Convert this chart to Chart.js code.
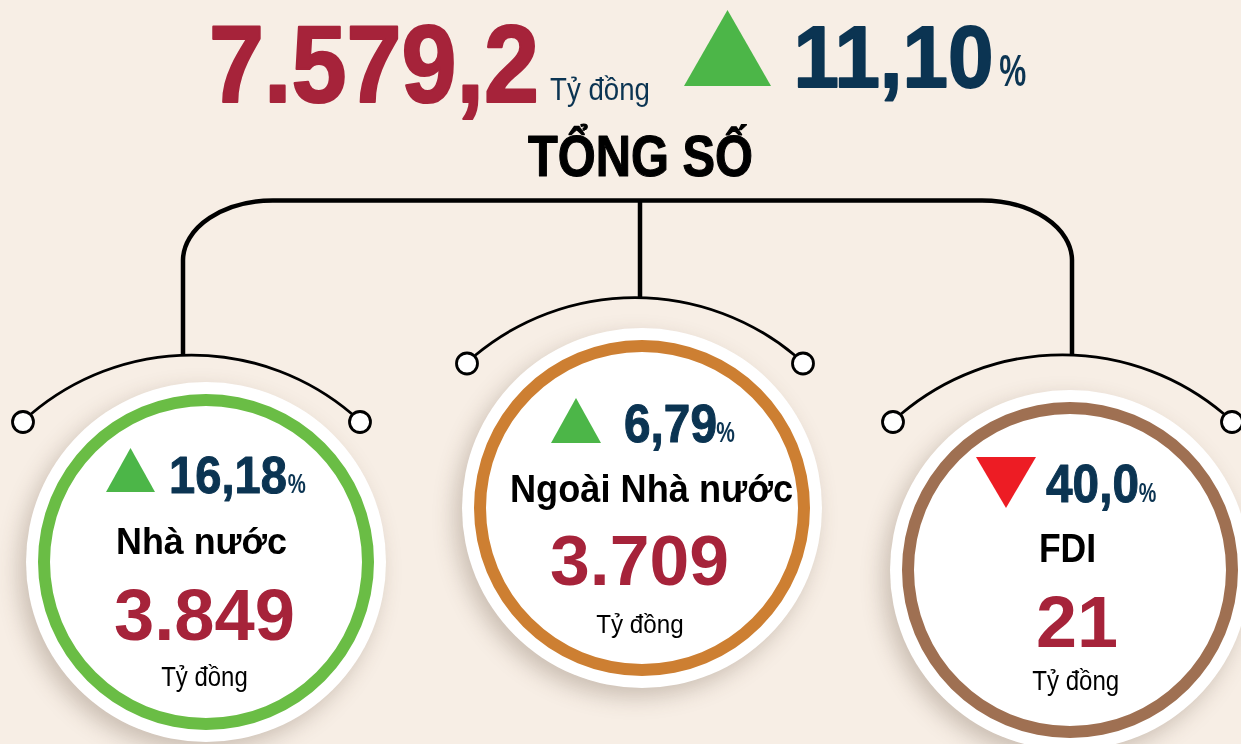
<!DOCTYPE html>
<html lang="vi">
<head>
<meta charset="utf-8">
<title>Tổng số</title>
<script src="https://cdn.jsdelivr.net/npm/chart.js@4.4.1/dist/chart.umd.min.js"></script>
<style>
  html, body { margin: 0; padding: 0; }
  body { width: 1241px; height: 744px; background: #f7eee5; position: relative; overflow: hidden;
         font-family: "Liberation Sans", Arial, sans-serif; }
  canvas.ring { position: absolute; }
  svg#overlay { position: absolute; left: 0; top: 0; pointer-events: none; }
</style>
</head>
<body>
<svg id="overlay" width="1241" height="744" xmlns="http://www.w3.org/2000/svg"></svg>
<script>
// ---------------- DATA ----------------
const categories   = ['Nhà nước', 'Ngoài Nhà nước', 'FDI'];
const values       = [3849, 3709, 21];          // Tỷ đồng
const growth       = [16.18, 6.79, -40.0];      // %
const growthDigits = [2, 2, 1];
const totalValue   = 7579.2;                    // Tỷ đồng
const totalGrowth  = 11.10;                     // %
const unitLabel    = 'Tỷ đồng';
const totalTitle   = 'TỔNG SỐ';

// ---------------- STYLE / LAYOUT ----------------
const C = { red: '#a6233a', navy: '#0b3452', up: '#4cb648', down: '#ed1c24', black: '#000' };
const ringColors = ['#6abd45', '#cd7f32', '#9f7052'];
// text specs: [inkLeft, baseline, fontSize, inkWidth]
const circles = [
  { cx: 206, cy: 562,
    tri: [106, 155, 448, 492], g: [170, 493, 51, 116], gp: [288.5, 493, 28, 16.5],
    name: [117, 554, 36, 169], val: [116, 640, 72, 177], unit: [162, 686, 27, 85] },
  { cx: 641.5, cy: 508,
    tri: [551, 601, 398, 443], g: [625, 442, 53, 91], gp: [717, 442, 29, 17],
    name: [511, 502, 39, 281], val: [552, 585, 71, 175], unit: [597, 633, 26, 86] },
  { cx: 1070, cy: 570,
    tri: [976, 1036, 457, 508], g: [1047, 502, 54, 91], gp: [1139.5, 502, 28, 16],
    name: [1040, 562, 40, 55], val: [1038, 647, 72, 78], unit: [1033, 690, 27, 85.5] }
];

function fmtVN(n, d) {
  const s = Math.abs(n).toFixed(d);
  let [i, f] = s.split('.');
  i = i.replace(/\B(?=(\d{3})+(?!\d))/g, '.');
  return f ? i + ',' + f : i;
}

// ---------------- RINGS (Chart.js doughnuts) ----------------
const discPlugin = {
  id: 'disc',
  beforeDraw(chart) {
    const { ctx, chartArea: a } = chart;
    const x = (a.left + a.right) / 2, y = (a.top + a.bottom) / 2;
    ctx.save();
    ctx.shadowColor = 'rgba(90,70,50,0.28)';
    ctx.shadowBlur = 22;
    ctx.shadowOffsetX = -7;
    ctx.shadowOffsetY = 9;
    ctx.beginPath();
    ctx.arc(x, y, 180, 0, Math.PI * 2);
    ctx.fillStyle = '#ffffff';
    ctx.fill();
    ctx.restore();
  }
};

const SIZE = 440, PAD = (SIZE - 336) / 2;
categories.forEach((cat, i) => {
  const c = circles[i];
  const cv = document.createElement('canvas');
  cv.className = 'ring';
  cv.width = SIZE; cv.height = SIZE;
  cv.style.width = SIZE + 'px'; cv.style.height = SIZE + 'px';
  cv.style.left = (c.cx - SIZE / 2) + 'px';
  cv.style.top = (c.cy - SIZE / 2) + 'px';
  document.body.insertBefore(cv, document.getElementById('overlay'));
  new Chart(cv, {
    type: 'doughnut',
    data: { labels: [cat], datasets: [{ data: [values[i]], backgroundColor: ringColors[i], borderWidth: 0 }] },
    options: {
      responsive: false, animation: false, devicePixelRatio: 1,
      cutout: 156,
      layout: { padding: PAD },
      plugins: { legend: { display: false }, tooltip: { enabled: false } },
      events: []
    },
    plugins: [discPlugin]
  });
});

// ---------------- CONNECTORS + TEXT (SVG) ----------------
const svg = document.getElementById('overlay');
const NS = 'http://www.w3.org/2000/svg';
function el(tag, attrs, text) {
  const e = document.createElementNS(NS, tag);
  for (const k in attrs) e.setAttribute(k, attrs[k]);
  if (text !== undefined) e.textContent = text;
  svg.appendChild(e);
  return e;
}
// heavy = thicken condensed display figures with a thin same-colour stroke
function txt(str, spec, color, weight, heavy) {
  const [x, y, size, w] = spec;
  const sw = heavy ? 0.02 * size : 0;
  const b = 0.028 * size - sw / 2;             // approx. side bearing
  el('text', { x: x - b, y, 'font-size': size, 'font-weight': weight || 'bold', fill: color,
    stroke: heavy ? color : 'none', 'stroke-width': sw, 'stroke-linejoin': 'round',
    'font-family': '"Liberation Sans", Arial, sans-serif',
    textLength: w + 2 * b, lengthAdjust: 'spacingAndGlyphs' }, str);
}
function triUp(x0, x1, y0, y1, col) {
  el('polygon', { points: `${x0},${y1} ${x1},${y1} ${(x0 + x1) / 2},${y0}`, fill: col });
}
function triDown(x0, x1, y0, y1, col) {
  el('polygon', { points: `${x0},${y0} ${x1},${y0} ${(x0 + x1) / 2},${y1}`, fill: col });
}

// bracket
el('path', { d: 'M183,356 V260 A90,60 0 0 1 273,200.5 H982 A90,60 0 0 1 1072,260 V356',
  fill: 'none', stroke: '#000', 'stroke-width': 4.5 });
el('path', { d: 'M640,200 V298', fill: 'none', stroke: '#000', 'stroke-width': 4.5 });
// arcs with end knobs
const arcs = [
  { l: [23, 422], r: [360, 422], rad: 248 },
  { l: [467, 363.5], r: [803, 363.5], rad: 250 },
  { l: [893, 422], r: [1232, 422], rad: 250 }
];
arcs.forEach(a => {
  el('path', { d: `M${a.l[0] + 8},${a.l[1] - 8} A${a.rad},${a.rad} 0 0 1 ${a.r[0] - 8},${a.r[1] - 8}`,
    fill: 'none', stroke: '#000', 'stroke-width': 2.8 });
  [a.l, a.r].forEach(p => el('circle', { cx: p[0], cy: p[1], r: 10.5, fill: '#fff', stroke: '#000', 'stroke-width': 2.8 }));
});

// header
txt(fmtVN(totalValue, 1), [211, 101.5, 110, 326], C.red, 'bold', true);
txt(unitLabel, [551, 99.5, 32, 98], C.navy, 'normal');
triUp(684, 771, 10, 86, totalGrowth >= 0 ? C.up : C.down);
txt(fmtVN(totalGrowth, 2), [795, 87, 88, 197], C.navy, 'bold', true);
txt('%', [1000.5, 86, 44, 24.5], C.navy);
txt(totalTitle, [529, 176, 57, 223], C.black, 'bold', true);

// circle texts
categories.forEach((cat, i) => {
  const c = circles[i];
  if (growth[i] >= 0) triUp(c.tri[0], c.tri[1], c.tri[2], c.tri[3], C.up);
  else triDown(c.tri[0], c.tri[1], c.tri[2], c.tri[3], C.down);
  txt(fmtVN(growth[i], growthDigits[i]), c.g, C.navy, 'bold', true);
  txt('%', c.gp, C.navy);
  txt(cat, c.name, C.black);
  txt(fmtVN(values[i], 0), c.val, C.red);
  txt(unitLabel, c.unit, '#000', 'normal');
});
</script>
</body>
</html>
